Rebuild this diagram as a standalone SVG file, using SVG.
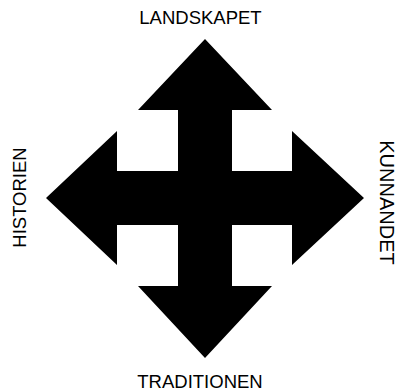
<svg xmlns="http://www.w3.org/2000/svg" width="398" height="391" viewBox="0 0 398 391">
<style>
.lbl{font-family:"Liberation Sans",Arial,sans-serif;font-size:18.5px;fill:#000;text-anchor:middle}
</style>
<rect width="398" height="391" fill="#fff"/>
<g id="cross">
<polygon fill="#000" points="205,39 272,110 232,110 232,171 292,171 292,131 364,198 292,265 292,225 232,225 232,286 272,286 205,358 138,286 178,286 178,225 117,225 117,265 46,198 117,131 117,171 178,171 178,110 138,110"/>
</g>
<g id="labels">
<text id="landskapet" class="lbl" x="200.5" y="24">LANDSKAPET</text>
<text id="traditionen" class="lbl" x="200" y="387.5">TRADITIONEN</text>
<text id="historien" class="lbl" transform="translate(26,197.5) rotate(-90)">HISTORIEN</text>
<text id="kunnandet" class="lbl" style="font-size:20px" transform="translate(380,202.5) rotate(90)">KUNNANDET</text>
</g>
</svg>
